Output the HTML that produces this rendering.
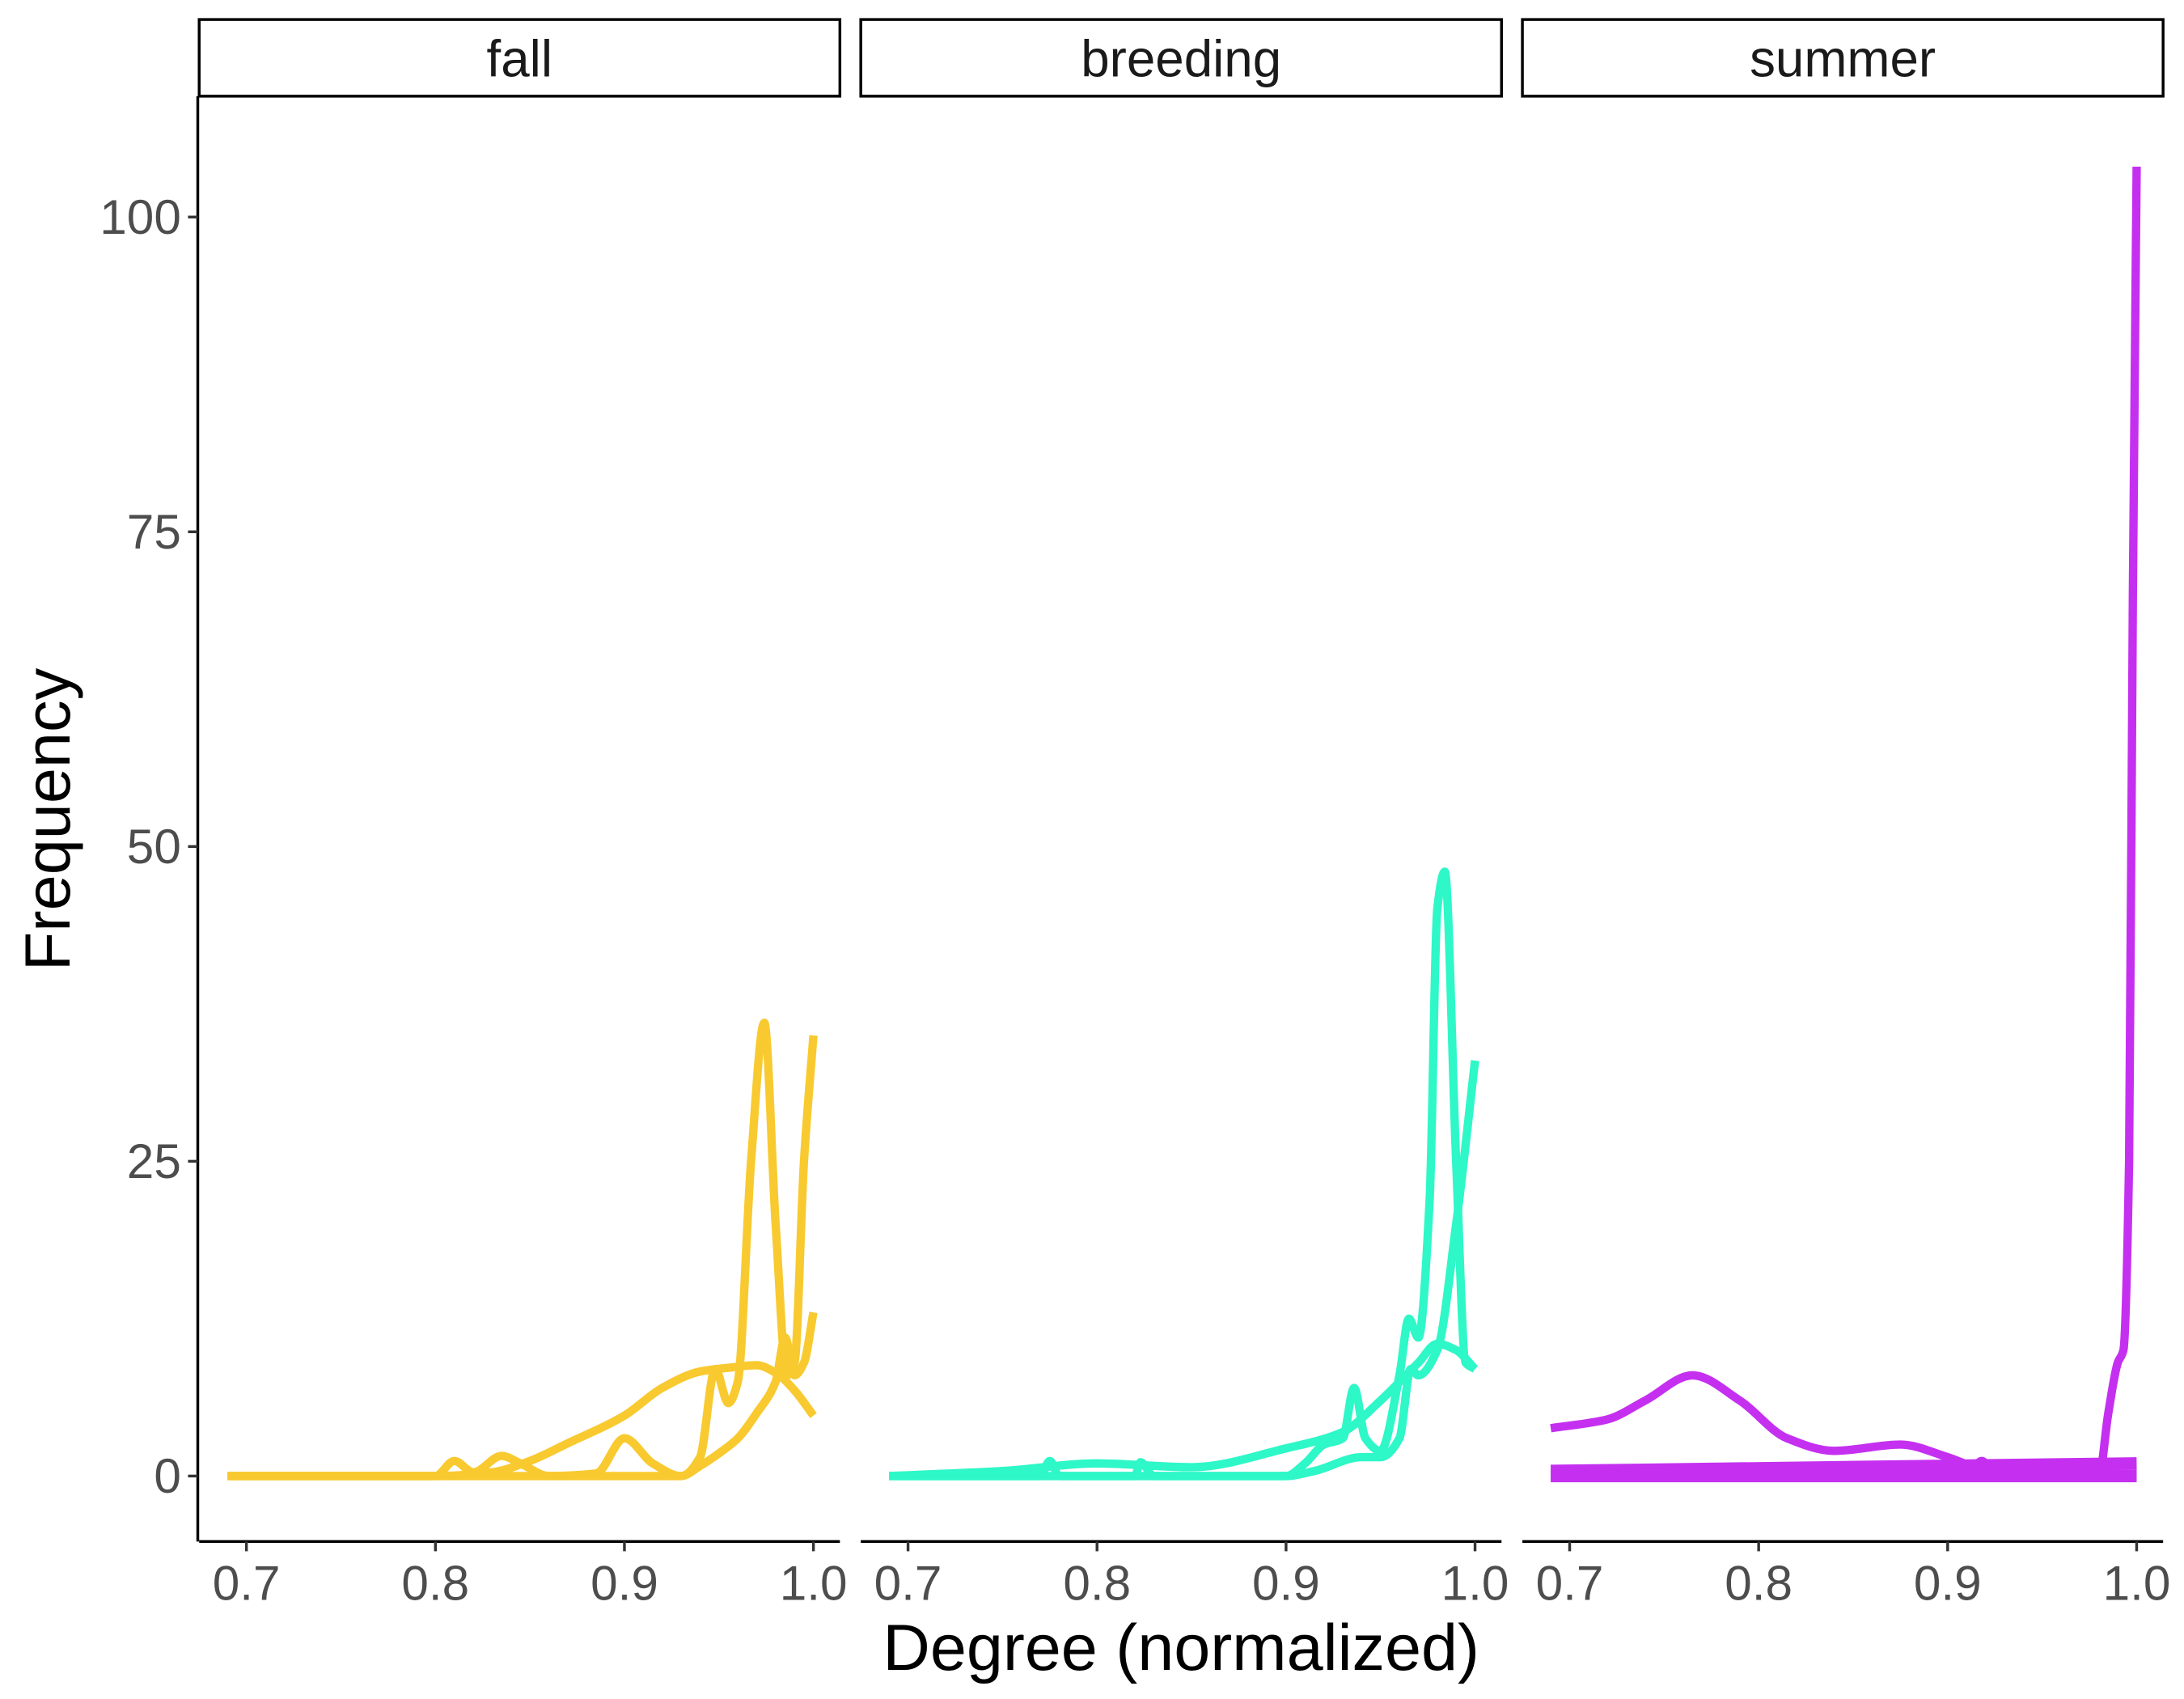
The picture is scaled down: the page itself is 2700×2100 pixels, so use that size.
<!DOCTYPE html>
<html><head><meta charset="utf-8">
<style>
html,body{margin:0;padding:0;background:#fff;}
svg{display:block;}
text{font-family:"Liberation Sans",sans-serif;}
</style></head>
<body>
<svg id="chart" width="2700" height="2100" viewBox="0 0 1568 1219" preserveAspectRatio="none" xmlns="http://www.w3.org/2000/svg">
<rect width="1568" height="1219" fill="#fff"/>
<g id="root"></g>
</svg>
<script>
const panels = ["fall","breeding","summer"];
const colors = ["#F8CA30","#2EF7C8","#C530F0"];
const xTicks = [0.7,0.8,0.9,1.0];
const xTickLabels = ["0.7","0.8","0.9","1.0"];
const yTicks = [0,25,50,75,100];
const yTickLabels = ["0","25","50","75","100"];

// fall series
const fallA_x = [0.69,0.80,0.83,0.85,0.87,0.90,0.92,0.94,0.955,0.97,0.98,0.99,1.0];
const fallA_y = [0,0,0.3,1.2,2.6,4.8,7,8.3,8.6,8.8,8.2,6.8,4.8];
const fallB_x = [0.69,0.93,0.94,0.948,0.955,0.96,0.967,0.974,0.98,0.986,0.99,0.995,1.0];
const fallB_y = [0,0,1.5,8.5,5.8,7.5,25,36,20,8,9,25,35];
const fallC_x = [0.69,0.80,0.81,0.82,0.835,0.845,0.86,0.885,0.90,0.915,0.93,0.94,0.95,0.96,0.97,0.98,0.985,0.99,0.995,1.0];
const fallC_y = [0,0,1.2,0.3,1.6,1.0,0,0.2,3,1,0,0.8,1.8,3,5,7.5,11,8,9,13];
// breeding series
const breA_x = [0.69,0.75,0.80,0.85,0.90,0.93,0.95,0.97,0.98,0.99,1.0];
const breA_y = [0,0.4,1,0.7,2.2,3.5,6,9,10.5,10,8.5];
const breB_x = [0.69,0.90,0.91,0.92,0.93,0.936,0.942,0.95,0.96,0.965,0.97,0.976,0.98,0.984,0.99,0.995,1.0];
const breB_y = [0,0,1,2.5,3,7,3,2,8,12.5,11,22,45,48,25,9,8.5];
const breC_x = [0.69,0.77,0.775,0.78,0.82,0.823,0.83,0.90,0.915,0.94,0.95,0.96,0.966,0.97,0.98,0.99,1.0];
const breC_y = [0,0,1.2,0,0,1.1,0,0,0.4,1.5,1.5,3,8.5,8,10,20,33];
// summer series
const sumA_x = [0.69,0.72,0.74,0.765,0.79,0.815,0.84,0.875,0.90,0.92,0.935,1.0];
const sumA_y = [3.8,4.5,6,8,6,3,2,2.5,1.5,0.4,0,0];
const sumB_x = [0.69,1.0];
const sumB_y = [0.4,1.0];
const sumC_x = [0.69,0.91,0.918,0.926,0.98,0.985,0.99,0.993,0.996,0.998,1.0];
const sumC_y = [0,0,1.2,0,0,5,9,10,25,70,104];
const sumD_x = [0.69,1.0];
const sumD_y = [0,0];

const series = [
  [[fallA_x,fallA_y],[fallB_x,fallB_y],[fallC_x,fallC_y]],
  [[breA_x,breA_y],[breB_x,breB_y],[breC_x,breC_y]],
  [[sumA_x,sumA_y],[sumB_x,sumB_y],[sumC_x,sumC_y],[sumD_x,sumD_y]]
];
const widths = [[6,6,6],[6,6,6],[6,9,6,9]];

const NS="http://www.w3.org/2000/svg";
const root=document.getElementById('root');
const panelLeft=[143,618,1093], panelW=460, plotTop=69, plotBottom=1106;
const xmin=0.675, xmax=1.014, ymin=-5.2, ymax=109.6;
function sx(p,v){return panelLeft[p]+(v-xmin)/(xmax-xmin)*panelW;}
function sy(v){return plotBottom-(v-ymin)/(ymax-ymin)*(plotBottom-plotTop);}
function mk(tag,attrs){const e=document.createElementNS(NS,tag);for(const k in attrs)e.setAttribute(k,attrs[k]);return e;}
function monoPath(pts){
  const n=pts.length;
  if(n<3){return "M"+pts.map(p=>p[0]+","+p[1]).join(" L");}
  const d=[],m=[];
  for(let i=0;i<n-1;i++)d.push((pts[i+1][1]-pts[i][1])/(pts[i+1][0]-pts[i][0]));
  m[0]=d[0];m[n-1]=d[n-2];
  for(let i=1;i<n-1;i++){
    if(d[i-1]*d[i]<=0)m[i]=0;
    else{const h0=pts[i][0]-pts[i-1][0],h1=pts[i+1][0]-pts[i][0];
      const w1=2*h1+h0,w2=h1+2*h0;m[i]=(w1+w2)/(w1/d[i-1]+w2/d[i]);}
  }
  let s="M"+pts[0][0]+","+pts[0][1];
  for(let i=0;i<n-1;i++){
    const h=pts[i+1][0]-pts[i][0];
    s+=" C"+(pts[i][0]+h/3)+","+(pts[i][1]+m[i]*h/3)+" "+(pts[i+1][0]-h/3)+","+(pts[i+1][1]-m[i+1]*h/3)+" "+pts[i+1][0]+","+pts[i+1][1];
  }
  return s;
}

panels.forEach((name,p)=>{
  const g=mk('g',{});
  
  
  root.appendChild(g);
  const strip=mk('rect',{x:panelLeft[p],y:14,width:panelW,height:55,fill:'#fff',stroke:'#000','stroke-width':2});
  
  
  g.appendChild(strip);
  const st=mk('text',{x:panelLeft[p]+panelW/2,y:55,'text-anchor':'middle','font-size':37,fill:'#1a1a1a'});
  st.textContent=name;
  
  
  g.appendChild(st);
  series[p].forEach((s,i)=>{
    const pts=s[0].map((x,j)=>[sx(p,x),sy(s[1][j])]);
    const path=mk('path',{d:monoPath(pts),fill:'none',stroke:colors[p],'stroke-width':widths[p][i],'stroke-linejoin':'round'});
    
    
    g.appendChild(path);
  });
  const ax=mk('line',{x1:panelLeft[p],x2:panelLeft[p]+panelW,y1:plotBottom,y2:plotBottom,stroke:'#000','stroke-width':2});
  
  
  g.appendChild(ax);
  xTicks.forEach((t,k)=>{
    const tk=mk('line',{x1:sx(p,t),x2:sx(p,t),y1:plotBottom,y2:plotBottom+7,stroke:'#333','stroke-width':2});
    
    
    g.appendChild(tk);
    const tl=mk('text',{x:sx(p,t),y:plotBottom+42,'text-anchor':'middle','font-size':35,fill:'#4d4d4d'});
    tl.textContent=xTickLabels[k];
    
    
    g.appendChild(tl);
  });
});
const yax=mk('line',{x1:142,x2:142,y1:plotTop,y2:plotBottom,stroke:'#000','stroke-width':2});


root.appendChild(yax);
yTicks.forEach((t,k)=>{
  const tk=mk('line',{x1:135,x2:142,y1:sy(t),y2:sy(t),stroke:'#333','stroke-width':2});
  
  
  root.appendChild(tk);
  const tl=mk('text',{x:130,y:sy(t)+12,'text-anchor':'end','font-size':35,fill:'#4d4d4d'});
  tl.textContent=yTickLabels[k];
  
  
  root.appendChild(tl);
});
const xt=mk('text',{x:848,y:1198,'text-anchor':'middle','font-size':47,fill:'#000'});
xt.textContent='Degree (normalized)';


root.appendChild(xt);
const yt=mk('text',{x:0,y:0,'text-anchor':'middle','font-size':46,fill:'#000',transform:'translate(50,588) rotate(-90)'});
yt.textContent='Frequency';


root.appendChild(yt);
</script>
</body></html>
